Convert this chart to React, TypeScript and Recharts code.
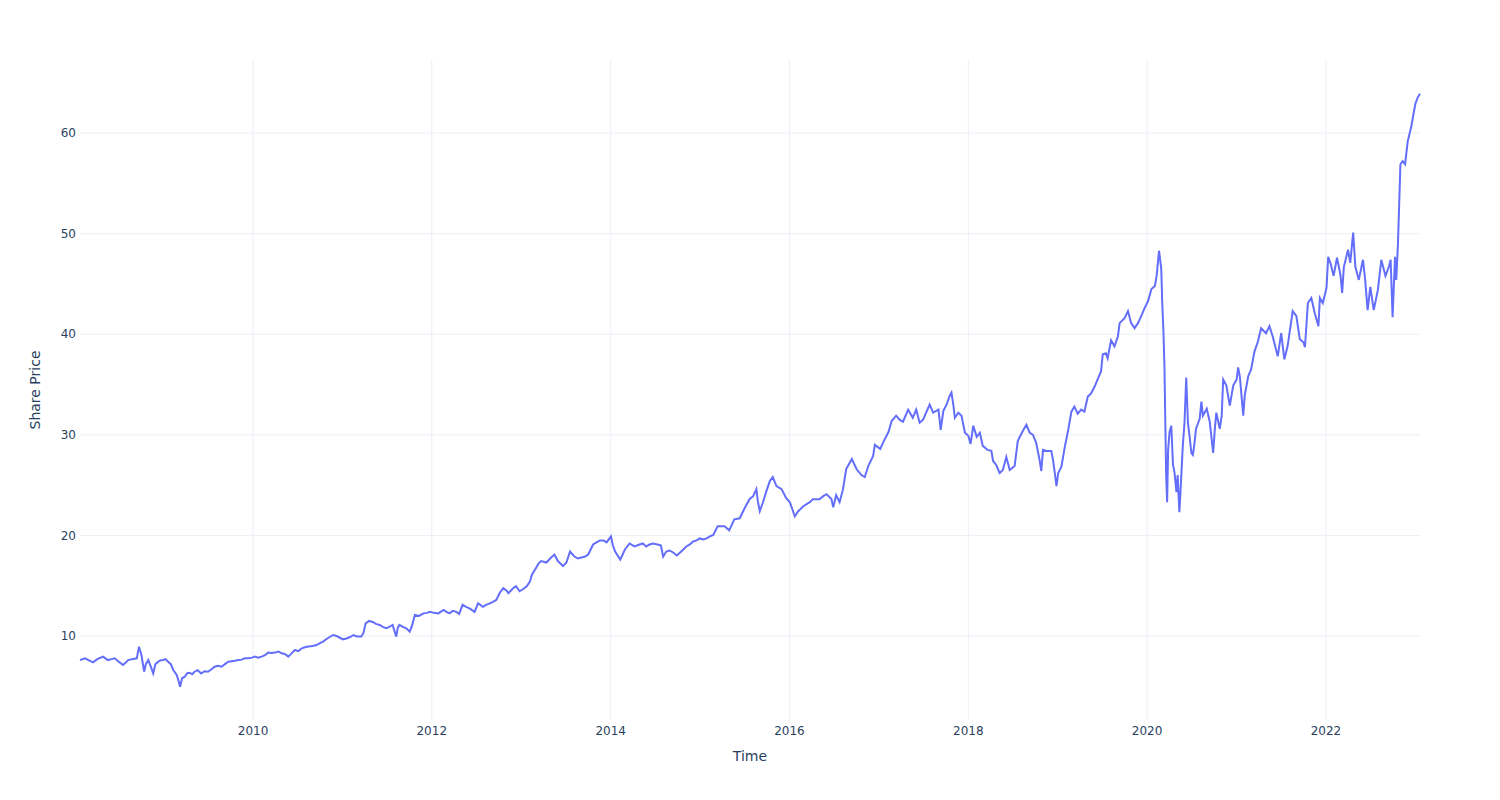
import React from 'react';
import { LineChart, Line, XAxis, YAxis, CartesianGrid } from 'recharts';

const dates: string[] = [
  '2008-01-25','2008-02-14','2008-03-04','2008-03-18','2008-04-05','2008-04-28','2008-05-18','2008-06-02','2008-06-15','2008-07-01',
  '2008-07-19','2008-08-09','2008-08-25','2008-09-13','2008-09-22','2008-10-02','2008-10-13','2008-10-20','2008-10-30','2008-11-10',
  '2008-11-19','2008-11-28','2008-12-10','2008-12-20','2008-12-30',
  '2009-01-08','2009-01-19','2009-01-30','2009-02-09','2009-02-23','2009-03-02','2009-03-09','2009-03-17','2009-03-28','2009-04-07',
  '2009-04-17','2009-04-27','2009-05-07','2009-05-20','2009-06-03','2009-06-17','2009-07-01','2009-07-15','2009-07-28','2009-08-10',
  '2009-08-25','2009-09-08','2009-09-22','2009-10-06','2009-10-19','2009-11-01','2009-11-15','2009-11-28','2009-12-12','2009-12-28',
  '2010-01-08','2010-01-22','2010-02-05','2010-02-19','2010-03-04','2010-03-18','2010-04-01','2010-04-15','2010-04-28','2010-05-12',
  '2010-05-25','2010-06-08','2010-06-21','2010-07-05','2010-07-19','2010-08-01','2010-08-15','2010-09-01','2010-09-17','2010-10-01',
  '2010-10-14','2010-10-28','2010-11-10','2010-11-24','2010-12-08','2010-12-20',
  '2011-01-03','2011-01-18','2011-02-01','2011-02-15','2011-03-01','2011-03-19','2011-03-28','2011-04-06','2011-04-20','2011-05-05',
  '2011-05-18','2011-06-02','2011-06-15','2011-06-29','2011-07-12','2011-07-25','2011-08-09','2011-08-15','2011-08-22','2011-09-05',
  '2011-09-19','2011-10-03','2011-10-12','2011-10-24','2011-11-10','2011-11-28','2011-12-12','2011-12-25',
  '2012-01-10','2012-01-28','2012-02-18','2012-03-01','2012-03-13','2012-03-27','2012-04-10','2012-04-22','2012-05-06','2012-05-20',
  '2012-06-03','2012-06-24','2012-07-08','2012-07-28','2012-08-10','2012-08-25','2012-09-07','2012-09-21','2012-10-05','2012-10-19',
  '2012-11-02','2012-11-09','2012-11-28','2012-12-10','2012-12-25',
  '2013-01-10','2013-01-23','2013-02-05','2013-02-13','2013-03-03','2013-03-12','2013-03-23','2013-04-13','2013-04-25','2013-05-03',
  '2013-05-16','2013-05-30','2013-06-10','2013-06-20','2013-07-04','2013-07-19','2013-08-06','2013-08-20','2013-09-04','2013-09-18',
  '2013-10-01','2013-10-21','2013-11-04','2013-11-18','2013-12-02','2013-12-15',
  '2014-01-02','2014-01-10','2014-01-19','2014-02-09','2014-02-28','2014-03-19','2014-04-08','2014-04-29','2014-05-12','2014-05-26',
  '2014-06-09','2014-06-22','2014-07-12','2014-07-25','2014-08-03','2014-08-16','2014-08-30','2014-09-13','2014-09-28','2014-10-16',
  '2014-11-06','2014-11-20','2014-12-04','2014-12-18','2014-12-31',
  '2015-01-14','2015-01-28','2015-02-10','2015-02-24','2015-03-14','2015-03-22','2015-04-11','2015-04-30','2015-05-21','2015-06-12',
  '2015-07-02','2015-07-22','2015-08-06','2015-08-19','2015-08-25','2015-09-02','2015-09-15','2015-09-29','2015-10-13','2015-10-25',
  '2015-11-09','2015-11-30','2015-12-19',
  '2016-01-03','2016-01-23','2016-02-06','2016-02-27','2016-03-24','2016-04-06','2016-05-03','2016-05-18','2016-06-01','2016-06-21',
  '2016-06-28','2016-07-10','2016-07-24','2016-08-07','2016-08-20','2016-09-12','2016-10-01','2016-10-21','2016-11-04','2016-11-18',
  '2016-12-08','2016-12-15',
  '2017-01-06','2017-01-19','2017-02-09','2017-02-22','2017-03-12','2017-03-26','2017-04-09','2017-04-30','2017-05-19','2017-06-02',
  '2017-06-16','2017-06-30','2017-07-27','2017-08-10','2017-09-01','2017-09-10','2017-09-21','2017-10-04','2017-10-17','2017-10-24',
  '2017-11-01','2017-11-07','2017-11-21','2017-12-04','2017-12-18',
  '2018-01-01','2018-01-10','2018-01-21','2018-02-04','2018-02-17','2018-03-01','2018-03-21','2018-04-05','2018-04-12','2018-04-25',
  '2018-05-09','2018-05-22','2018-06-05','2018-06-19','2018-07-09','2018-07-22','2018-08-12','2018-08-26','2018-09-09','2018-09-22',
  '2018-10-05','2018-10-19','2018-10-26','2018-11-02','2018-11-16','2018-12-06','2018-12-13','2018-12-27',
  '2019-01-03','2019-01-16','2019-01-30','2019-02-13','2019-02-26','2019-03-10','2019-03-24','2019-04-07','2019-04-20','2019-05-04',
  '2019-05-17','2019-06-01','2019-06-13','2019-06-27','2019-07-04','2019-07-17','2019-07-24','2019-08-07','2019-08-21','2019-09-04',
  '2019-09-11','2019-10-01','2019-10-15','2019-10-28','2019-11-11','2019-11-25','2019-12-08','2019-12-22',
  '2020-01-05','2020-01-19','2020-02-02','2020-02-09','2020-02-19','2020-02-28','2020-03-03','2020-03-08','2020-03-12','2020-03-16',
  '2020-03-19','2020-03-23','2020-03-27','2020-04-02','2020-04-09','2020-04-16','2020-04-22','2020-04-30','2020-05-05','2020-05-12',
  '2020-05-19','2020-05-26','2020-06-02','2020-06-09','2020-06-16','2020-06-22','2020-06-30','2020-07-06','2020-07-12','2020-07-19',
  '2020-08-03','2020-08-10','2020-08-16','2020-09-01','2020-09-13','2020-09-27','2020-10-04','2020-10-10','2020-10-24','2020-11-01',
  '2020-11-07','2020-11-20','2020-12-04','2020-12-18',
  '2021-01-01','2021-01-07','2021-01-14','2021-01-28','2021-02-03','2021-02-17','2021-03-01','2021-03-15','2021-03-28','2021-04-11',
  '2021-05-01','2021-05-15','2021-05-28','2021-06-18','2021-07-02','2021-07-15','2021-07-28','2021-08-18','2021-09-02','2021-09-16',
  '2021-10-01','2021-10-07','2021-10-19','2021-11-02','2021-11-16','2021-12-01','2021-12-07','2021-12-19',
  '2022-01-03','2022-01-10','2022-01-20','2022-02-01','2022-02-15','2022-03-01','2022-03-08','2022-03-15','2022-04-01','2022-04-10',
  '2022-04-22','2022-05-01','2022-05-15','2022-06-01','2022-06-10','2022-06-20','2022-07-01','2022-07-15','2022-08-01','2022-08-15',
  '2022-09-01','2022-09-15','2022-09-22','2022-09-30','2022-10-10','2022-10-15','2022-10-22','2022-11-01','2022-11-10','2022-11-20',
  '2022-12-01','2022-12-15',
  '2023-01-01','2023-01-10','2023-01-20',
];

// Share price at each date
const prices: number[] = [
  7.6, 7.78, 7.55, 7.38, 7.7, 7.95, 7.61, 7.7, 7.78, 7.45,
  7.12, 7.61, 7.7, 7.78, 8.94, 8.11, 6.45, 7.2, 7.61, 6.9,
  6.28, 7.2, 7.45, 7.6, 7.61,
  7.7, 7.45, 7.2, 6.62, 6.12, 5.6, 4.96, 5.8, 5.95, 6.3,
  6.35, 6.2, 6.45, 6.6, 6.28, 6.5, 6.45, 6.7, 6.95, 7.05,
  6.95, 7.2, 7.45, 7.5, 7.55, 7.61, 7.65, 7.78, 7.8, 7.85,
  7.95, 7.85, 7.95, 8.1, 8.35, 8.3, 8.35, 8.45, 8.28, 8.2,
  7.95, 8.3, 8.61, 8.5, 8.78, 8.88, 8.95, 9.0, 9.1, 9.3,
  9.44, 9.7, 9.9, 10.1, 10.0, 9.85,
  9.67, 9.75, 9.9, 10.1, 9.95, 9.94, 10.3, 11.26, 11.5, 11.4,
  11.2, 11.1, 10.9, 10.77, 10.9, 11.1, 9.94, 10.8, 11.1, 10.9,
  10.77, 10.43, 11.0, 12.1, 12.0, 12.25, 12.3, 12.4,
  12.3, 12.25, 12.6, 12.4, 12.25, 12.5, 12.4, 12.2, 13.1, 12.9,
  12.75, 12.4, 13.25, 12.9, 13.1, 13.25, 13.4, 13.6, 14.3, 14.75,
  14.5, 14.25, 14.75, 14.95, 14.45,
  14.7, 14.95, 15.4, 16.1, 16.8, 17.2, 17.45, 17.3, 17.6, 17.8,
  18.1, 17.45, 17.2, 16.95, 17.3, 18.4, 17.9, 17.7, 17.8, 17.9,
  18.1, 19.1, 19.3, 19.5, 19.5, 19.3,
  19.9, 19.0, 18.4, 17.6, 18.6, 19.2, 18.9, 19.1, 19.2, 18.9,
  19.1, 19.2, 19.1, 19.0, 17.9, 18.4, 18.5, 18.3, 18.0, 18.4,
  18.9, 19.1, 19.4, 19.5, 19.7,
  19.6, 19.7, 19.9, 20.05, 20.9, 20.9, 20.9, 20.5, 21.6, 21.7,
  22.7, 23.6, 23.9, 24.6, 23.4, 22.4, 23.3, 24.4, 25.4, 25.8,
  24.9, 24.6, 23.7,
  23.3, 21.9, 22.4, 22.9, 23.3, 23.6, 23.6, 23.9, 24.1, 23.6,
  22.8, 24.0, 23.3, 24.6, 26.6, 27.6, 26.6, 26.0, 25.8, 26.9,
  27.9, 29.0,
  28.6, 29.3, 30.3, 31.4, 31.9, 31.5, 31.3, 32.5, 31.7, 32.5,
  31.2, 31.5, 33.0, 32.2, 32.5, 30.5, 32.4, 33.0, 33.9, 34.2,
  32.9, 31.7, 32.2, 31.9, 30.2,
  29.9, 29.1, 30.9, 29.8, 30.2, 28.9, 28.5, 28.4, 27.4, 27.0,
  26.2, 26.5, 27.8, 26.5, 26.9, 29.4, 30.4, 31.0, 30.2, 30.0,
  29.2, 27.5, 26.4, 28.5, 28.4, 28.4, 27.5, 24.9,
  26.2, 26.8, 28.8, 30.5, 32.3, 32.8, 32.1, 32.5, 32.3, 33.8,
  34.1, 34.8, 35.5, 36.3, 38.0, 38.1, 37.6, 39.4, 38.8, 39.8,
  41.1, 41.6, 42.3, 41.1, 40.6, 41.1, 41.8, 42.6,
  43.3, 44.5, 44.8, 45.8, 48.3, 46.5, 43.2, 40.2, 36.9, 30.6,
  26.0, 23.3, 28.5, 30.3, 30.9, 27.0, 26.3, 24.3, 26.0, 22.3,
  25.5, 28.9, 31.2, 35.7, 31.2, 30.0, 28.2, 28.0, 29.0, 30.6,
  31.6, 33.3, 31.9, 32.6, 31.3, 28.2, 30.6, 32.2, 30.6, 31.9,
  35.5, 34.9, 32.9, 34.9,
  35.5, 36.7, 35.8, 31.9, 33.9, 35.8, 36.5, 38.3, 39.2, 40.6,
  40.1, 40.8, 39.8, 37.8, 40.1, 37.5, 38.8, 42.3, 41.8, 39.5,
  39.2, 38.7, 43.1, 43.6, 42.1, 40.8, 43.6, 43.1,
  44.6, 47.7, 47.0, 45.8, 47.6, 45.9, 44.1, 46.7, 48.4, 47.1,
  50.1, 46.7, 45.4, 47.4, 45.4, 42.4, 44.7, 42.4, 44.4, 47.4,
  45.8, 46.7, 47.4, 41.7, 47.7, 45.4, 49.0, 56.9, 57.2, 56.9,
  59.2, 60.6,
  62.9, 63.5, 63.9,
];

const xTickYears: number[] = [2010, 2012, 2014, 2016, 2018, 2020, 2022];
const yTicks: number[] = [10, 20, 30, 40, 50, 60];

const data = dates.map((d, i) => ({ t: Date.parse(d), price: prices[i] }));
const xTicks = xTickYears.map((y) => Date.UTC(y, 0, 1));

const FONT = 'DejaVu Sans, Verdana, sans-serif';
const TEXT = '#2a3f5f';

// Map a value through whatever scale object Recharts hands the grid generator
const applyScale = (s: any, v: number): number => {
  try {
    if (typeof s === 'function') return s(v);
    if (s && typeof s.map === 'function') return s.map(v);
    if (s && typeof s.scale === 'function') return s.scale(v);
    if (s && typeof s.apply === 'function') return s.apply(v);
  } catch (e) {
    /* ignore */
  }
  return NaN;
};

const hGen = (props: any) => {
  const s = props?.yAxis?.scale;
  return yTicks.map((v) => applyScale(s, v)).filter((n) => Number.isFinite(n));
};
const vGen = (props: any) => {
  const s = props?.xAxis?.scale;
  return xTicks.map((v) => applyScale(s, v)).filter((n) => Number.isFinite(n));
};

export default function App() {
  return (
    <div style={{ position: 'absolute', left: 0, top: 0, width: 1500, height: 800, background: '#fff' }}>
      <LineChart
        width={1500}
        height={800}
        data={data}
        margin={{ top: 60, right: 80, bottom: 50, left: 20 }}
      >
        <CartesianGrid
          stroke="#ebf0f8"
          strokeWidth={1}
          horizontalCoordinatesGenerator={hGen}
          verticalCoordinatesGenerator={vGen}
        />
        <XAxis
          dataKey="t"
          type="number"
          scale="time"
          domain={['dataMin', 'dataMax']}
          ticks={xTicks}
          interval={0}
          tickFormatter={(v: number) => String(new Date(v).getUTCFullYear())}
          axisLine={false}
          tickLine={false}
          tickSize={0}
          tickMargin={6}
          height={30}
          tick={{ fill: TEXT, fontSize: 12, fontFamily: FONT }}
          label={{ value: 'Time', position: 'bottom', offset: 1, style: { fill: TEXT, fontSize: 14, fontFamily: FONT } }}
        />
        <YAxis
          type="number"
          domain={[1.65, 67.26]}
          ticks={yTicks}
          interval={0}
          axisLine={false}
          tickLine={false}
          tickSize={0}
          tickMargin={4}
          width={60}
          tick={{ fill: TEXT, fontSize: 12, fontFamily: FONT }}
          label={{ value: 'Share Price', angle: -90, position: 'insideLeft', offset: 15, style: { textAnchor: 'middle', fill: TEXT, fontSize: 14, fontFamily: FONT } }}
        />
        <Line
          type="linear"
          dataKey="price"
          stroke="#636efa"
          strokeWidth={2}
          dot={false}
          activeDot={false}
          isAnimationActive={false}
        />
      </LineChart>
    </div>
  );
}
